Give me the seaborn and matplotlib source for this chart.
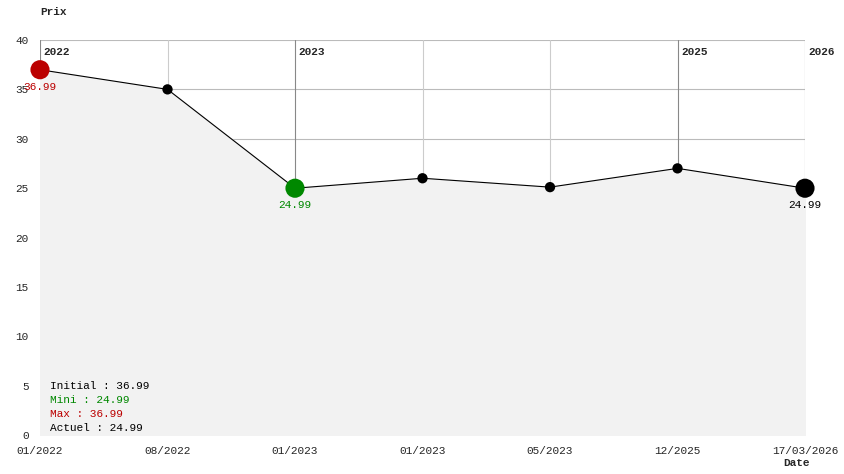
import matplotlib
matplotlib.use("Agg")
import matplotlib.pyplot as plt
import seaborn as sns
import pandas as pd

dates = ["01/2022", "08/2022", "01/2023", "01/2023", "05/2023", "12/2025", "17/03/2026"]
prices = [36.99, 35.0, 24.99, 26.0, 25.1, 27.0, 24.99]
year_marks = {0: "2022", 2: "2023", 5: "2025", 6: "2026"}

sns.set_style("white")
plt.rcParams["font.family"] = ["Liberation Mono", "DejaVu Sans Mono"]
plt.rcParams["font.size"] = 8

df = pd.DataFrame({"pos": range(len(dates)), "price": prices})

fig = plt.figure(figsize=(8.44, 4.74), dpi=100)
ax = fig.add_axes([40 / 844, 39 / 474, 765 / 844, 395 / 474])

for y in range(5, 41, 5):
    ax.axhline(y, color="#bbbbbb", lw=0.8, zorder=0)
for i in range(len(dates)):
    c = "#888888" if i in year_marks else "#cccccc"
    ax.axvline(i, color=c, lw=0.8, zorder=0)
    if i in year_marks:
        ax.text(i + 0.03, 39.3, year_marks[i], fontweight="bold", fontsize=8, va="top", ha="left")

ax.fill_between(df["pos"], df["price"], 0, color="#f2f2f2", zorder=1)
sns.lineplot(data=df, x="pos", y="price", color="black", lw=0.8, ax=ax, zorder=2)
sns.scatterplot(data=df, x="pos", y="price", color="black", s=55, ax=ax, zorder=3,
                edgecolor="none", clip_on=False)

imax = prices.index(max(prices))
imin = prices.index(min(prices))
ilast = len(prices) - 1
for i, c in [(imax, "#bb0000"), (imin, "#008800"), (ilast, "black")]:
    ax.scatter([i], [prices[i]], s=190, color=c, zorder=4, edgecolor="none", clip_on=False)
    ax.text(i, prices[i] - 1.2, f"{prices[i]:.2f}", color=c, ha="center", va="top")

ax.set_xlim(0, len(dates) - 1)
ax.set_ylim(0, 40)
ax.set_xticks(range(len(dates)))
ax.set_xticklabels(dates)
ax.set_yticks(range(0, 41, 5))
ax.tick_params(length=0, pad=8)
ax.set_xlabel("")
ax.set_ylabel("")
for s in ax.spines.values():
    s.set_visible(False)

legend = [("Initial : 36.99", "black"), ("Mini : 24.99", "#008800"),
          ("Max : 36.99", "#bb0000"), ("Actuel : 24.99", "black")]
for k, (t, c) in enumerate(legend):
    fig.text(50 / 844, 1 - (386 + k * 14) / 474, t, color=c, va="center")

fig.text(40 / 844, 1 - 12 / 474, "Prix", fontweight="bold", va="center")
fig.text(783 / 844, 1 - 463 / 474, "Date", fontweight="bold", va="center")

fig.savefig("out.png", dpi=100)
